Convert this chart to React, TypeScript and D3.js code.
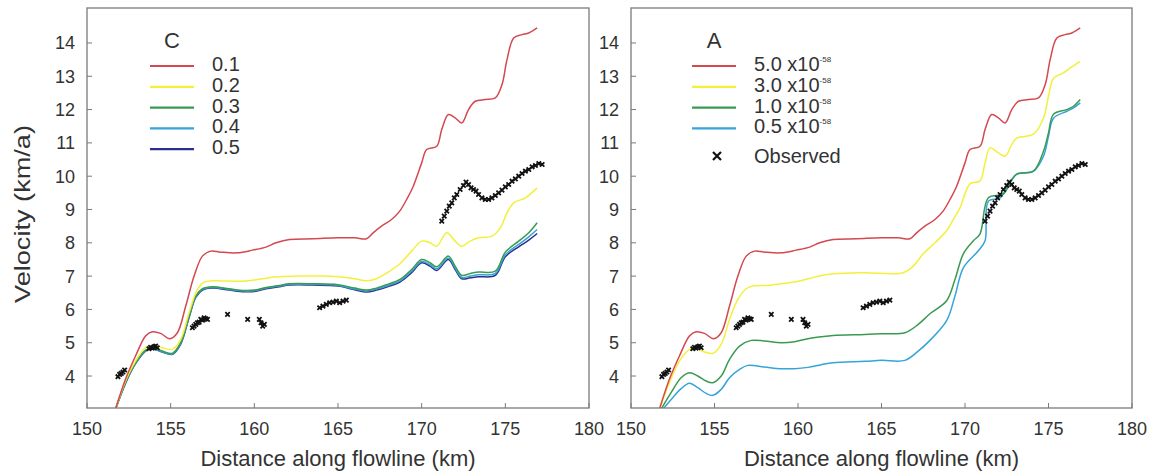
import React from 'react';
import * as d3 from 'd3';

type Pt = [number, number];

// observed velocities (km, km/a)
const observed: Pt[] = [
  [151.85, 3.98], [151.95, 4.05], [152.05, 4.08], [152.15, 4.12], [152.25, 4.18],
  [153.7, 4.82], [153.8, 4.86], [153.9, 4.84], [154.0, 4.88], [154.1, 4.9], [154.2, 4.85],
  [156.3, 5.45], [156.4, 5.5], [156.5, 5.55], [156.6, 5.6], [156.7, 5.62], [156.8, 5.7],
  [156.9, 5.68], [157.0, 5.75], [157.1, 5.72], [157.2, 5.7],
  [158.4, 5.85], [159.6, 5.7],
  [160.3, 5.7], [160.4, 5.6], [160.5, 5.5], [160.6, 5.55],
  [163.9, 6.05], [164.1, 6.1], [164.3, 6.15], [164.5, 6.2], [164.7, 6.22], [164.9, 6.25],
  [165.1, 6.2], [165.3, 6.25], [165.5, 6.28],
  [171.2, 8.65], [171.35, 8.8], [171.5, 8.95], [171.65, 9.1], [171.8, 9.2], [171.95, 9.35],
  [172.1, 9.45], [172.3, 9.6], [172.5, 9.72], [172.65, 9.82], [172.8, 9.75], [172.95, 9.65],
  [173.1, 9.6], [173.25, 9.55], [173.4, 9.45], [173.6, 9.35], [173.8, 9.3], [174.0, 9.3],
  [174.2, 9.35], [174.4, 9.42], [174.6, 9.5], [174.8, 9.58], [175.0, 9.68], [175.2, 9.75],
  [175.4, 9.85], [175.6, 9.92], [175.8, 10.0], [176.0, 10.08], [176.2, 10.15], [176.4, 10.2],
  [176.6, 10.28], [176.8, 10.32], [177.0, 10.38], [177.2, 10.35],
];

// C = 0.1 and A = 5.0e-58 (same run)
const runRed: Pt[] = [
  [151.7, 3.0], [152.3, 3.9], [152.9, 4.6], [153.5, 5.2], [153.9, 5.33], [154.4, 5.28],
  [154.95, 5.12], [155.4, 5.3], [155.9, 6.1], [156.4, 7.0], [156.9, 7.6], [157.4, 7.75],
  [158.0, 7.72], [159.0, 7.7], [159.9, 7.78], [160.7, 7.87], [161.3, 8.0], [162.1, 8.1],
  [163.5, 8.12], [165.0, 8.15], [166.0, 8.15], [166.7, 8.12], [167.1, 8.3], [167.6, 8.5],
  [168.2, 8.7], [168.7, 8.96], [169.1, 9.3], [169.5, 9.7], [170.0, 10.4], [170.3, 10.8],
  [170.9, 10.9], [171.2, 11.4], [171.6, 11.85], [172.0, 11.75], [172.4, 11.6], [172.8, 12.0],
  [173.2, 12.25], [173.8, 12.3], [174.4, 12.35], [174.8, 12.75], [175.1, 13.5], [175.5, 14.15],
  [176.0, 14.25], [176.4, 14.3], [176.9, 14.45],
];

const runC02: Pt[] = [
  [151.7, 3.0], [152.3, 3.85], [152.9, 4.45], [153.5, 4.85], [153.9, 4.92], [154.5, 4.85],
  [155.1, 4.8], [155.6, 5.1], [156.1, 5.9], [156.6, 6.6], [157.0, 6.82], [157.5, 6.86],
  [158.5, 6.85], [159.5, 6.85], [160.5, 6.92], [161.3, 6.98], [162.5, 7.0], [164.0, 7.0],
  [165.0, 6.98], [166.0, 6.92], [166.7, 6.86], [167.3, 6.92], [168.0, 7.12], [168.7, 7.37],
  [169.4, 7.75], [170.0, 8.05], [170.5, 8.0], [170.9, 7.9], [171.5, 8.3], [172.0, 8.05],
  [172.4, 7.9], [172.9, 8.05], [173.4, 8.15], [174.2, 8.2], [174.7, 8.45], [175.1, 8.9],
  [175.5, 9.2], [176.2, 9.35], [176.9, 9.65],
];

const runC03: Pt[] = [
  [151.7, 3.0], [152.3, 3.8], [152.9, 4.4], [153.5, 4.78], [153.9, 4.85], [154.5, 4.75],
  [155.1, 4.68], [155.6, 5.0], [156.1, 5.8], [156.5, 6.4], [156.9, 6.62], [157.5, 6.68],
  [158.5, 6.62], [159.4, 6.57], [160.0, 6.58], [160.7, 6.66], [161.5, 6.72], [162.1, 6.77],
  [163.5, 6.77], [165.0, 6.74], [166.0, 6.64], [166.7, 6.58], [167.3, 6.64], [168.0, 6.76],
  [168.7, 6.9], [169.4, 7.2], [170.0, 7.5], [170.5, 7.4], [170.9, 7.28], [171.6, 7.6],
  [172.0, 7.3], [172.4, 7.02], [172.9, 7.08], [173.4, 7.12], [174.4, 7.15], [175.0, 7.72],
  [175.8, 8.05], [176.4, 8.3], [176.9, 8.6],
];

const runC04: Pt[] = [
  [151.7, 3.0], [152.3, 3.8], [152.9, 4.38], [153.5, 4.76], [153.9, 4.83], [154.5, 4.73],
  [155.1, 4.66], [155.6, 4.98], [156.1, 5.78], [156.5, 6.38], [156.9, 6.6], [157.5, 6.66],
  [158.5, 6.6], [159.4, 6.55], [160.0, 6.56], [160.7, 6.64], [161.5, 6.7], [162.1, 6.75],
  [163.5, 6.75], [165.0, 6.72], [166.0, 6.61], [166.7, 6.55], [167.3, 6.61], [168.0, 6.72],
  [168.7, 6.86], [169.4, 7.15], [170.0, 7.44], [170.5, 7.34], [170.9, 7.22], [171.6, 7.54],
  [172.0, 7.24], [172.4, 6.96], [172.9, 7.0], [173.4, 7.04], [174.4, 7.08], [175.0, 7.64],
  [175.8, 7.95], [176.4, 8.18], [176.9, 8.4],
];

const runC05: Pt[] = [
  [151.7, 3.0], [152.3, 3.78], [152.9, 4.37], [153.5, 4.75], [153.9, 4.82], [154.5, 4.72],
  [155.1, 4.65], [155.6, 4.96], [156.1, 5.76], [156.5, 6.36], [156.9, 6.58], [157.5, 6.64],
  [158.5, 6.58], [159.4, 6.53], [160.0, 6.54], [160.7, 6.62], [161.5, 6.68], [162.1, 6.73],
  [163.5, 6.73], [165.0, 6.7], [166.0, 6.59], [166.7, 6.52], [167.3, 6.58], [168.0, 6.69],
  [168.7, 6.82], [169.4, 7.1], [170.0, 7.4], [170.5, 7.3], [170.9, 7.17], [171.6, 7.5],
  [172.0, 7.2], [172.4, 6.92], [172.9, 6.95], [173.4, 6.98], [174.4, 7.02], [175.0, 7.58],
  [175.8, 7.88], [176.4, 8.08], [176.9, 8.28],
];

const runA30: Pt[] = [
  [151.7, 3.0], [152.3, 3.8], [152.9, 4.45], [153.5, 4.8], [153.8, 4.85], [154.4, 4.72],
  [154.9, 4.68], [155.4, 4.95], [155.9, 5.7], [156.4, 6.3], [156.9, 6.62], [157.3, 6.7],
  [158.2, 6.72], [159.0, 6.77], [159.8, 6.82], [160.6, 6.92], [161.4, 7.02], [162.1, 7.07],
  [164.0, 7.1], [166.3, 7.1], [166.9, 7.3], [167.5, 7.67], [168.2, 8.0], [168.9, 8.36],
  [169.3, 8.7], [169.7, 9.05], [170.3, 9.77], [170.9, 9.86], [171.2, 10.4], [171.5, 10.85],
  [172.0, 10.7], [172.4, 10.6], [172.8, 10.95], [173.1, 11.14], [174.1, 11.26], [174.7, 11.74],
  [175.0, 12.4], [175.3, 12.94], [175.9, 13.1], [176.3, 13.25], [176.9, 13.45],
];

const runA10: Pt[] = [
  [151.8, 3.0], [152.4, 3.5], [153.0, 3.95], [153.5, 4.1], [154.0, 4.0], [154.5, 3.85],
  [154.9, 3.8], [155.4, 4.0], [155.9, 4.5], [156.5, 4.9], [157.2, 5.07], [158.0, 5.05],
  [159.0, 5.0], [159.8, 5.03], [160.6, 5.12], [161.4, 5.18], [162.1, 5.22], [164.0, 5.25],
  [165.0, 5.27], [166.4, 5.3], [167.2, 5.55], [167.9, 5.87], [168.9, 6.26], [169.4, 6.9],
  [169.9, 7.67], [170.5, 8.06], [170.9, 8.27], [171.4, 9.35], [172.3, 9.46], [172.7, 9.8],
  [173.1, 10.06], [174.1, 10.15], [174.7, 10.75], [175.0, 11.3], [175.3, 11.86], [176.1, 12.0],
  [176.5, 12.1], [176.9, 12.3],
];

const runA05: Pt[] = [
  [151.9, 3.0], [152.5, 3.35], [153.0, 3.62], [153.5, 3.78], [154.0, 3.65], [154.5, 3.48],
  [154.9, 3.42], [155.4, 3.6], [155.9, 3.95], [156.5, 4.2], [157.0, 4.32], [158.0, 4.27],
  [159.0, 4.22], [159.8, 4.22], [160.6, 4.26], [161.4, 4.34], [162.1, 4.4], [164.0, 4.44],
  [165.0, 4.47], [166.4, 4.47], [167.2, 4.75], [167.9, 5.07], [168.9, 5.66], [169.4, 6.4],
  [169.9, 7.25], [170.8, 7.76], [171.2, 8.06], [171.4, 9.25], [172.1, 9.35], [172.6, 9.75],
  [173.1, 10.06], [174.1, 10.15], [174.7, 10.6], [175.0, 11.2], [175.3, 11.74], [176.1, 11.95],
  [176.5, 12.05], [176.9, 12.2],
];

const xTicks = [150, 155, 160, 165, 170, 175, 180];
const yTicks = [4, 5, 6, 7, 8, 9, 10, 11, 12, 13, 14];

const RED = '#d4484f';
const YELLOW = '#f3f03c';
const GREEN = '#3a9a52';
const CYAN = '#35a4d8';
const NAVY = '#2c2f90';

const leftSeries = [
  { label: '0.1', color: RED, data: runRed },
  { label: '0.2', color: YELLOW, data: runC02 },
  { label: '0.3', color: GREEN, data: runC03 },
  { label: '0.4', color: CYAN, data: runC04 },
  { label: '0.5', color: NAVY, data: runC05 },
];

const rightSeries = [
  { label: '5.0 x10', color: RED, data: runRed },
  { label: '3.0 x10', color: YELLOW, data: runA30 },
  { label: '1.0 x10', color: GREEN, data: runA10 },
  { label: '0.5 x10', color: CYAN, data: runA05 },
];

const FONT = '"Liberation Sans", Arial, Helvetica, sans-serif';
const TXT = '#333';
const FRAME = '#7a7a7a';

const top = 8;
const bottom = 408;

function Cross({ x, y, s, w }: { x: number; y: number; s: number; w: number }) {
  return (
    <path d={`M${x - s},${y - s}L${x + s},${y + s}M${x - s},${y + s}L${x + s},${y - s}`}
      stroke="#111" strokeWidth={w} />
  );
}

function Panel({ id, left, right, series, title, legendX, showObsLegend, sup }: any) {
  const x = d3.scaleLinear().domain([150, 180]).range([left, right]);
  const y = d3.scaleLinear().domain([3.04, 15.05]).range([bottom, top]);
  const line = d3.line<Pt>().x(d => x(d[0])).y(d => y(d[1])).curve(d3.curveCatmullRom.alpha(0.5));

  return (
    <g>
      <defs>
        <clipPath id={id}>
          <rect x={left} y={top} width={right - left} height={bottom - top} />
        </clipPath>
      </defs>
      <g clipPath={`url(#${id})`}>
        {series.slice().reverse().map((s: any, i: number) => (
          <path key={i} d={line(s.data) || ''} fill="none" stroke={s.color} strokeWidth={1.5} />
        ))}
        {observed.map((p, i) => <Cross key={i} x={x(p[0])} y={y(p[1])} s={2.2} w={1.8} />)}
      </g>
      <rect x={left} y={top} width={right - left} height={bottom - top} fill="none" stroke={FRAME} strokeWidth={1.3} />
      {xTicks.map(t => (
        <g key={t}>
          <line x1={x(t)} x2={x(t)} y1={bottom} y2={bottom - 5} stroke={FRAME} />
          <text x={x(t)} y={435} textAnchor="middle" fontSize={18} fill={TXT} fontFamily={FONT}>{t}</text>
        </g>
      ))}
      {yTicks.map(t => (
        <g key={t}>
          <line x1={left} x2={left + 5} y1={y(t)} y2={y(t)} stroke={FRAME} />
          <text x={left - 12} y={y(t)} dy="0.36em" textAnchor="end" fontSize={18} fill={TXT} fontFamily={FONT}>{t}</text>
        </g>
      ))}
      <text x={(left + right) / 2} y={466} textAnchor="middle" fontSize={22} fill={TXT} fontFamily={FONT}>
        Distance along flowline (km)
      </text>
      <text x={legendX + 22} y={48} textAnchor="middle" fontSize={22} fill={TXT} fontFamily={FONT}>{title}</text>
      {series.map((s: any, i: number) => {
        const ly = 66 + i * 20.8;
        return (
          <g key={s.label}>
            <line x1={legendX} x2={legendX + 44} y1={ly} y2={ly} stroke={s.color} strokeWidth={2.2} />
            <text x={legendX + 62} y={ly + 5} fontSize={20} fill={TXT} fontFamily={FONT}>
              {s.label}
              {sup && <tspan fontSize={8} dy={-9}>-58</tspan>}
            </text>
          </g>
        );
      })}
      {showObsLegend && (
        <g>
          <Cross x={legendX + 25} y={156} s={4} w={2.2} />
          <text x={legendX + 62} y={163} fontSize={20} fill={TXT} fontFamily={FONT}>Observed</text>
        </g>
      )}
    </g>
  );
}

export default function App() {
  return (
    <svg width={1159} height={475} style={{ position: 'absolute', left: 0, top: 0, background: '#fff' }}>
      <text transform="translate(30,214) rotate(-90)" textAnchor="middle" fontSize={22} fill={TXT}
        fontFamily={FONT} textLength={178} lengthAdjust="spacingAndGlyphs">
        Velocity (km/a)
      </text>
      <Panel id="clipL" left={87} right={589} series={leftSeries} title="C" legendX={150} />
      <Panel id="clipR" left={631} right={1132} series={rightSeries} title="A" legendX={692} showObsLegend sup />
    </svg>
  );
}
